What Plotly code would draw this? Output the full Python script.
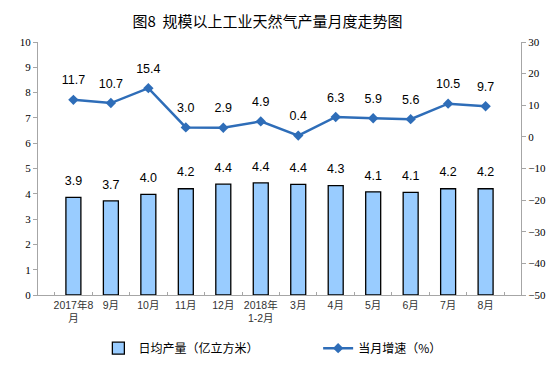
import plotly.graph_objects as go

categories = ["2017年8<br>月", "9月", "10月", "11月", "12月", "2018年<br>1-2月",
              "3月", "4月", "5月", "6月", "7月", "8月"]
daily_output = [3.86, 3.72, 3.98, 4.2, 4.38, 4.43, 4.37, 4.32, 4.08, 4.06, 4.2, 4.2]
growth_rate = [11.7, 10.7, 15.4, 3.0, 2.9, 4.9, 0.4, 6.3, 5.9, 5.6, 10.5, 9.7]

left_ticks = list(range(0, 11))
right_ticks = list(range(-50, 31, 10))

num_font = "Liberation Sans, Arial, sans-serif"
cjk_font = "Noto Sans CJK SC, sans-serif"
tick_cjk_font = "Liberation Sans, Noto Sans CJK SC, sans-serif"
serif_font = "Liberation Serif, Times New Roman, serif"
label_font = dict(family=num_font, size=12.5, color="#000000")

fig = go.Figure()
fig.add_trace(go.Bar(
    x=categories, y=daily_output, name="日均产量（亿立方米）",
    marker=dict(color="#99CCFF", line=dict(color="#000000", width=1.3)),
    legend="legend",
))
# bar value labels (invisible marker used to set the text offset)
fig.add_trace(go.Scatter(
    x=categories, y=daily_output, mode="markers+text", showlegend=False,
    marker=dict(size=13, opacity=0), hoverinfo="skip",
    text=[f"{v:.1f}" for v in daily_output], textposition="top center",
    textfont=label_font, cliponaxis=False,
))
fig.add_trace(go.Scatter(
    x=categories, y=growth_rate, name="当月增速（%）", yaxis="y2",
    mode="lines+markers",
    line=dict(color="#2E6DB8", width=2.5),
    marker=dict(symbol="diamond", size=8, color="#2E6DB8"),
    cliponaxis=False, legend="legend2",
))
fig.add_trace(go.Scatter(
    x=categories, y=growth_rate, yaxis="y2", mode="markers+text", showlegend=False,
    marker=dict(size=18, opacity=0), hoverinfo="skip",
    text=[f"{v:.1f}" for v in growth_rate], textposition="top center",
    textfont=label_font, cliponaxis=False,
))

legend_font = dict(family=cjk_font, size=12, color="#000000")

fig.update_layout(
    width=550, height=376,
    paper_bgcolor="white", plot_bgcolor="white",
    margin=dict(l=25, r=36, t=34, b=89),
    title=dict(text="图8  规模以上工业天然气产量月度走势图", x=0.472, xanchor="center",
               y=0.963, yanchor="middle",
               font=dict(family=cjk_font, size=15, color="#000000")),
    bargap=0.6,
    showlegend=True,
    legend=dict(x=0.125, y=-0.21, xanchor="left", yanchor="middle",
                font=legend_font, itemwidth=30, bgcolor="rgba(0,0,0,0)"),
    legend2=dict(x=0.58, y=-0.21, xanchor="left", yanchor="middle",
                 font=legend_font, itemwidth=30, bgcolor="rgba(0,0,0,0)"),
    xaxis=dict(showline=True, linecolor="#A6A6A6", linewidth=1, tickangle=0,
               ticks="inside", ticklen=3, tickcolor="#A6A6A6", tickson="boundaries",
               tickfont=dict(family=tick_cjk_font, size=10.5, color="#333333"),
               showgrid=False),
    yaxis=dict(range=[0, 10], tickvals=left_ticks, showline=True, linecolor="#A6A6A6",
               ticks="outside", ticklen=4, tickcolor="#A6A6A6", showgrid=False,
               zeroline=False,
               tickfont=dict(family=serif_font, size=11, color="#000000")),
    yaxis2=dict(range=[-50, 30], tickvals=right_ticks, overlaying="y", side="right",
                showline=True, linecolor="#A6A6A6", ticks="outside", ticklen=4,
                tickcolor="#A6A6A6", showgrid=False, zeroline=False,
                tickfont=dict(family=serif_font, size=11, color="#000000")),
)

fig.write_html("out.html")
